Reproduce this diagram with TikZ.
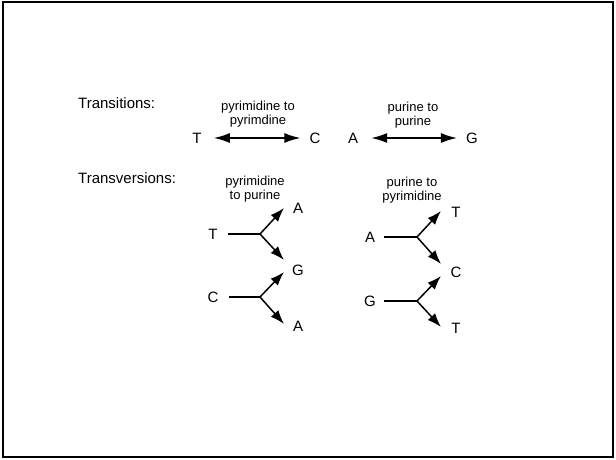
\documentclass[tikz,border=0pt]{standalone}
\usepackage{fontspec}
\setmainfont{Liberation Sans}
\usetikzlibrary{arrows.meta}
\begin{document}
\begin{tikzpicture}[x=1pt,y=-1pt,
  base/.style={inner sep=0pt,font=\fontsize{15}{15}\selectfont},
  head/.style={inner sep=0pt,anchor=west,font=\fontsize{15}{15}\selectfont},
  note/.style={inner sep=0pt,align=center,font=\fontsize{13}{14}\selectfont},
  dbl/.style={line width=1.6pt,{Latex[length=16pt,width=10pt]}-{Latex[length=16pt,width=10pt]}},
  stem/.style={line width=1.5pt},
  branch/.style={line width=1.5pt,-{Latex[length=14pt,width=10pt]}}]
\useasboundingbox (0,0) rectangle (616,460);
\draw[line width=2pt] (3,2) rectangle (613,457);
% headings
\node[head] (htr) at (78,103) {Transitions:};
\node[head] (htv) at (78,178) {Transversions:};
% transitions
\node[note] (n1) at (258,114) {pyrimidine to\\pyrimdine};
\node[note] (n2) at (413,115) {purine to\\purine};
\node[base] (t1) at (197,138) {T};
\node[base] (c1) at (315,138) {C};
\node[base] (a1) at (353,138) {A};
\node[base] (g1) at (472,138) {G};
\draw[dbl,shorten <=12pt,shorten >=9pt] (t1.east) -- (c1.west);
\draw[dbl,shorten <=13pt,shorten >=9pt] (a1.east) -- (g1.west);
% transversions labels
\node[note] (n3) at (255,189) {pyrimidine\\to purine};
\node[note] (n4) at (412,190) {purine to\\pyrimidine};
% left forks
\node[base] (t2) at (213,234) {T};
\node[base] (a2) at (298,208) {A};
\node[base] (g2) at (298,270) {G};
\node[base] (c2) at (213,297) {C};
\node[base] (a3) at (298,326) {A};
\coordinate (j1) at (260,234);
\coordinate (j1u) at (284,208);
\coordinate (j1d) at (284,260);
\coordinate (j2) at (260,297);
\coordinate (j2u) at (284,272);
\coordinate (j2d) at (284,324);
\draw[stem,shorten <=10pt] (t2.east) -- (j1);
\draw[branch] (j1) -- (j1u);
\draw[branch] (j1) -- (j1d);
\draw[stem,shorten <=10pt] (c2.east) -- (j2);
\draw[branch] (j2) -- (j2u);
\draw[branch] (j2) -- (j2d);
% right forks
\node[base] (a4) at (370,237) {A};
\node[base] (t3) at (456,212) {T};
\node[base] (c3) at (456,272) {C};
\node[base] (g4) at (370,301) {G};
\node[base] (t4) at (456,328) {T};
\coordinate (j3) at (417,237);
\coordinate (j3u) at (441,211);
\coordinate (j3d) at (441,264);
\coordinate (j4) at (417,301);
\coordinate (j4u) at (441,276);
\coordinate (j4d) at (441,327);
\draw[stem,shorten <=9pt] (a4.east) -- (j3);
\draw[branch] (j3) -- (j3u);
\draw[branch] (j3) -- (j3d);
\draw[stem,line width=2.2pt,shorten <=8pt] (g4.east) -- (j4);
\draw[branch] (j4) -- (j4u);
\draw[branch] (j4) -- (j4d);
\end{tikzpicture}
\end{document}
